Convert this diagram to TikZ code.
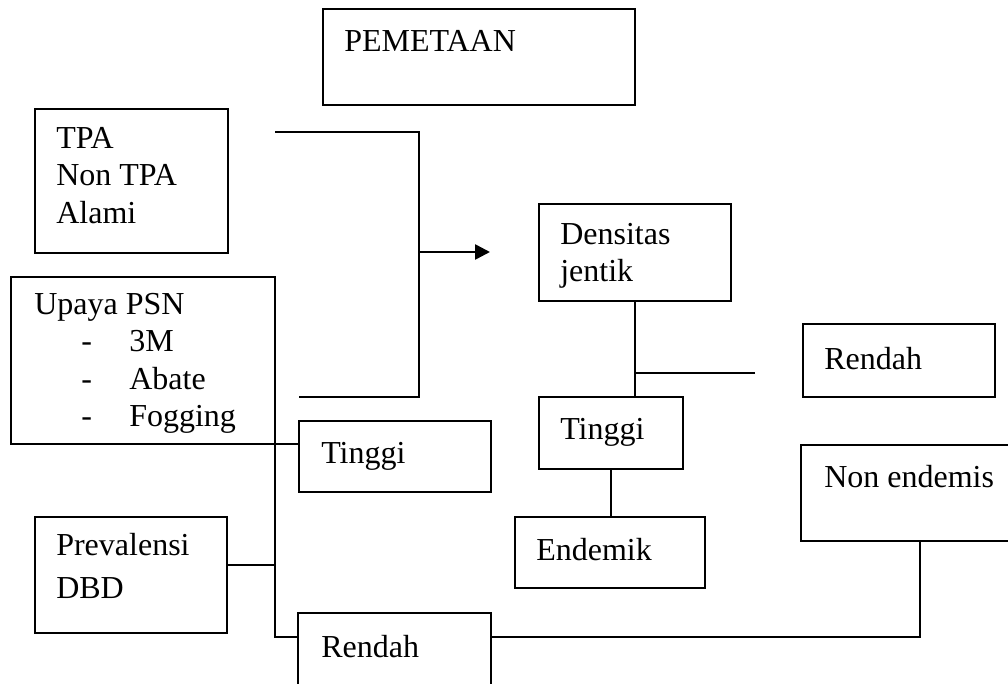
\documentclass[tikz,border=0pt]{standalone}
\usepackage{fontspec}
\setmainfont{Liberation Serif}
\usetikzlibrary{arrows.meta}
\tikzset{every picture/.style={line width=1.3pt}}
\tikzset{
  kotak/.style 2 args={draw, rectangle, anchor=north west, inner sep=0pt, outer sep=0pt,
    minimum width=#1*0.5pt, minimum height=#2*0.5pt},
  teks/.style={anchor=north west, inner sep=0pt, align=left,
    font=\fontsize{16}{18.75}\selectfont},
}
\newcommand{\butir}[1]{\hspace*{23.5pt}\makebox[24pt][l]{-}#1}

\begin{document}
\begin{tikzpicture}[x=0.5pt,y=-0.5pt]
\useasboundingbox (0,0) rectangle (1008,684);
\clip (0,0) rectangle (1008,684);
% kotak
\node[kotak={312}{96}] (pemetaan) at (323,9) {};
\node[kotak={193}{144}] (tpa) at (35,109) {};
\node[kotak={264}{167}] (upaya) at (11,277) {};
\node[kotak={192}{71}] (tinggi1) at (299,421) {};
\node[kotak={192}{116}] (prevalensi) at (35,517) {};
\node[kotak={193}{120}] (rendah1) at (298,613) {};
\node[kotak={192}{97}] (densitas) at (539,204) {};
\node[kotak={144}{72}] (tinggi2) at (539,397) {};
\node[kotak={190}{71}] (endemik) at (515,517) {};
\node[kotak={192}{73}] (rendah2) at (803,324) {};
\node[kotak={230}{96}] (nonendemis) at (801,445) {};
%
\node[teks] (t-pemetaan) at (343,29) {PEMETAAN};
\node[teks] (t-tpa) at (55,126) {TPA\\Non TPA\\Alami};
\node[teks] (t-upaya) at (33,292) {Upaya PSN\\\butir{3M}\\\butir{Abate}\\\butir{Fogging}};
\node[teks] (t-tinggi1) at (320,441) {Tinggi};
\node[teks] (t-prevalensi) at (55,532) {Prevalensi\\[2.5pt]DBD};
\node[teks] (t-rendah1) at (320,634) {Rendah};
\node[teks] (t-densitas) at (559,222) {Densitas\\jentik};
\node[teks] (t-tinggi2) at (559,417) {Tinggi};
\node[teks] (t-endemik) at (535,537) {Endemik};
\node[teks] (t-rendah2) at (823,346) {Rendah};
\node[teks] (t-nonendemis) at (823,464) {Non endemis};
% garis
\coordinate (a1) at (275,132);
\coordinate (a2) at (299,397);
\coordinate (a3) at (419,252);
\coordinate (a4) at (490,252);
\draw (a1) -| (a3) |- (a2);
\draw [-{Triangle[length=7.5pt,width=7.5pt]}] (a3) -- (a4);
%
\coordinate (b1) at (275,637);
\coordinate (b2) at (275,565);
\draw (upaya.south east) -- (b1) -- (rendah1.west |- b1);
\draw (upaya.south east) -- (tinggi1.west |- upaya.south east);
\draw (b2) -- (prevalensi.east |- b2);
%
\coordinate (c1) at (755,373);
\draw (densitas.south) -- (densitas.south |- tinggi2.north);
\draw (c1) -- (densitas.south |- c1);
\draw (tinggi2.south) -- (tinggi2.south |- endemik.north);
%
\coordinate (d1) at (920,637);
\draw (rendah1.east |- d1) -- (d1) -- (d1 |- nonendemis.south);
\end{tikzpicture}
\end{document}
